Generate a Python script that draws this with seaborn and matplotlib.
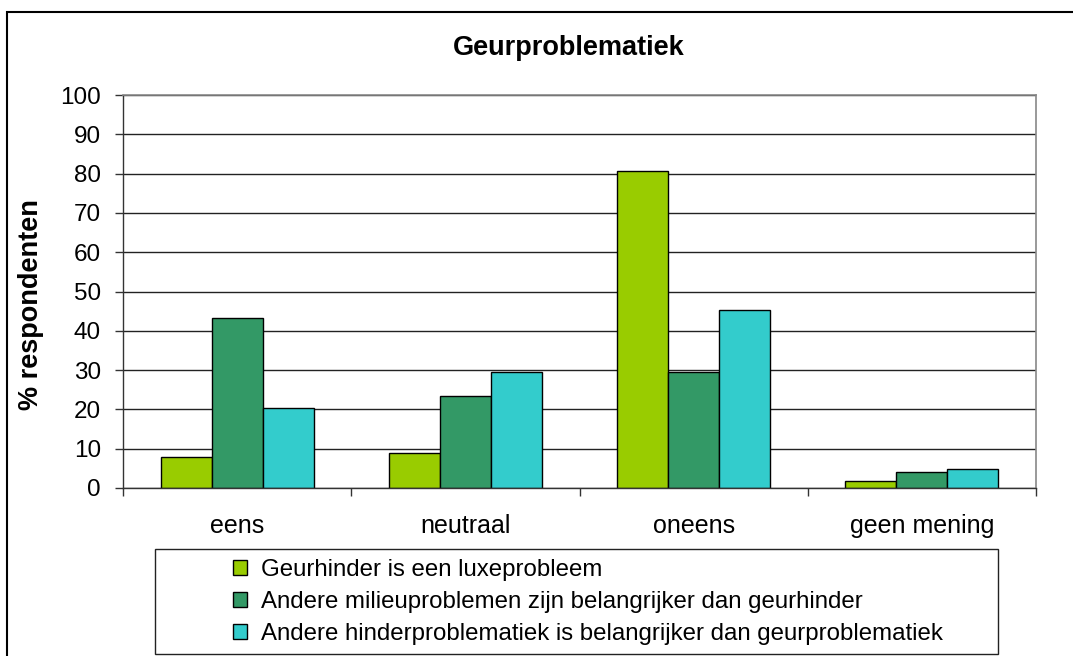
import pandas as pd
import matplotlib
matplotlib.use('Agg')
import matplotlib.pyplot as plt
import seaborn as sns
from matplotlib.patches import Rectangle, Patch
from matplotlib.ticker import FixedLocator

# ========= DATA =========
categories = ['eens', 'neutraal', 'oneens', 'geen mening']
series = [
    'Geurhinder is een luxeprobleem',
    'Andere milieuproblemen zijn belangrijker dan geurhinder',
    'Andere hinderproblematiek is belangrijker dan geurproblematiek',
]
luxe = [8.0, 9.0, 80.7, 1.9]
milieu = [43.3, 23.3, 29.5, 4.1]
hinder = [20.3, 29.4, 45.2, 4.8]
colors = ['#99CC00', '#339966', '#33CCCC']

df = pd.DataFrame({
    'categorie': categories * 3,
    'reeks': [series[0]] * 4 + [series[1]] * 4 + [series[2]] * 4,
    'pct': luxe + milieu + hinder,
})

# ========= PLOT =========
sns.set_style('white')
plt.rcParams['font.family'] = ['Liberation Sans', 'DejaVu Sans']
plt.rcParams['text.color'] = 'black'
plt.rcParams['axes.labelcolor'] = 'black'
plt.rcParams['xtick.labelcolor'] = 'black'
plt.rcParams['ytick.labelcolor'] = 'black'

fig = plt.figure(figsize=(10.73, 6.56), dpi=100)
ax = fig.add_axes([123 / 1073, 1 - 488 / 656, (1036 - 123) / 1073, (488 - 95) / 656])

sns.barplot(data=df, x='categorie', y='pct', hue='reeks', order=categories,
            hue_order=series, palette=colors, width=0.67, gap=0,
            edgecolor='black', linewidth=1, saturation=1, legend=False, ax=ax)

ax.set_xlim(-0.5, 3.5)
ax.set_ylim(0, 100)
ax.set_yticks(range(0, 101, 10))
ax.yaxis.grid(True, color='#222222', linewidth=1)
ax.set_axisbelow(True)

for s in ['left', 'bottom']:
    ax.spines[s].set_color('#333333')
    ax.spines[s].set_linewidth(1)
for s in ['top', 'right']:
    ax.spines[s].set_color('#888888')
    ax.spines[s].set_linewidth(1.2)

ax.tick_params(axis='y', which='major', left=True, length=6, width=1,
               color='#333333', labelcolor='black', pad=10, labelsize=17.5)
ax.tick_params(axis='x', which='major', bottom=False, pad=15,
               labelcolor='black', labelsize=18)
ax.xaxis.set_minor_locator(FixedLocator([-0.5, 0.5, 1.5, 2.5, 3.5]))
ax.tick_params(axis='x', which='minor', bottom=True, length=6, width=1,
               color='#333333')

ax.set_xlabel('')
ax.set_ylabel('% respondenten', fontsize=19.5, fontweight='bold', color='black')
ax.yaxis.set_label_coords(-0.087, 0.466)

fig.text(569 / 1073, 1 - 48 / 656, 'Geurproblematiek', fontsize=19.5,
         fontweight='bold', ha='center', va='center', color='black')

# legend with separate frame
handles = [Patch(facecolor=c, edgecolor='black', linewidth=1) for c in colors]
leg = fig.legend(handles, series, loc='upper left',
                 bbox_to_anchor=(221 / 1073, 1 - 547 / 656), frameon=False,
                 fontsize=17.3, borderpad=0, handlelength=0.6, handleheight=0.6,
                 handletextpad=0.55, labelspacing=0.42, labelcolor='black')
fig.patches.append(Rectangle((155 / 1073, 1 - 654 / 656), (998 - 155) / 1073,
                             (654 - 549) / 656, transform=fig.transFigure,
                             fill=False, edgecolor='#222222', linewidth=1))

# outer border of the chart area
fig.patches.append(Rectangle((7 / 1073, -0.1), 1.2, 1.1 - 12 / 656,
                             transform=fig.transFigure, fill=False,
                             edgecolor='black', linewidth=1.5))

fig.savefig('out.png', dpi=100)
